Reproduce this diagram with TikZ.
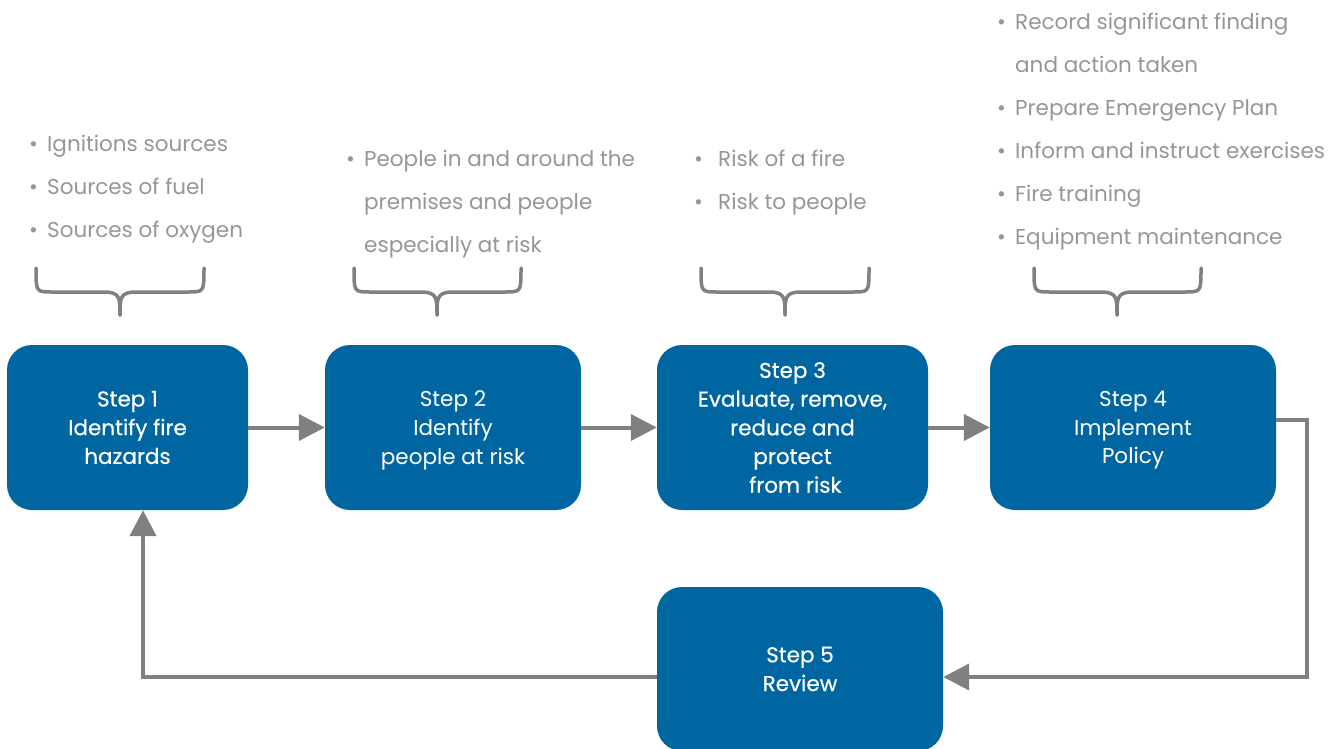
\documentclass[tikz,border=0pt]{standalone}
\usepackage{fontspec}
\setmainfont{Poppins}
\newfontfamily\medfont[FakeBold=0.5]{Poppins}
\usetikzlibrary{arrows.meta}
\definecolor{boxblue}{RGB}{0,102,161}
\definecolor{linegray}{RGB}{128,128,128}
\definecolor{txtgray}{RGB}{150,150,150}
\tikzset{
  stepbox/.style={fill=boxblue, rounded corners=25pt, text=white, align=center, inner sep=0pt,
    font=\fontsize{21.5}{28.7}\selectfont},
  boldstep/.style={stepbox, font=\medfont\fontsize{21.5}{28.7}\selectfont},
  flow/.style={draw=linegray, line width=4pt, -{Triangle[length=26pt,width=26pt]}},
  bracepath/.style={draw=linegray, line width=3.5pt, line cap=round},
  bullets/.style={text=txtgray, align=left, anchor=base west, inner sep=0pt,
    font=\fontsize{21.5}{43}\selectfont}
}
\newcommand{\bul}{\makebox[18pt][l]{\textbullet}}
\newcommand{\ind}{\hspace*{18pt}}
\newcommand{\bracedown}[4]{% left right center name
  \draw[bracepath] (#1,268) .. controls (#1,292) .. (#1+16,292) -- (#3-16,292)
     .. controls (#3,292) and (#3,298) .. (#3,315);
  \draw[bracepath] (#2,268) .. controls (#2,292) .. (#2-16,292) -- (#3+16,292)
     .. controls (#3,292) and (#3,298) .. (#3,315);
  \coordinate (#4) at (#3,315);
}
\begin{document}
\begin{tikzpicture}[x=1pt,y=-1pt]
\useasboundingbox (0,0) rectangle (1333,749);

% boxes
\node[boldstep, minimum width=241pt, minimum height=165pt] (s1) at (127.5,427.5)
  {Step 1\\Identify fire\\hazards};
\node[stepbox, text depth=0pt, minimum width=256pt, minimum height=165pt] (s2) at (453,427.5)
  {Step 2\\Identify\\people at risk};
\node[boldstep, minimum width=271pt, minimum height=165pt] (s3) at (792.5,427.5)
  {Step 3\\Evaluate, remove,\\reduce and\\protect\\\ from risk};
\node[stepbox, text depth=0pt, minimum width=286pt, minimum height=165pt] (s4) at (1133,427.5)
  {Step 4\\Implement\\Policy};
\node[boldstep, minimum width=286pt, minimum height=164pt] (s5) at (800,669)
  {Step 5\\Review};

% connectors
\draw[flow] (s1.east) -- (s2.west);
\draw[flow] (s2.east) -- (s3.west);
\draw[flow] (s3.east) -- (s4.west);
\coordinate (c4) at (1307,420);
\coordinate (c5) at (1307,677);
\coordinate (c6) at (143,677);
\draw[flow] (s4.east |- c4) -- (c4) -- (c5) -- (s5.east |- c5);
\draw[flow] (s5.west |- c6) -- (c6) -- (s1.south -| c6);

% braces
\bracedown{36}{204}{120}{b1}
\bracedown{354}{521}{437}{b2}
\bracedown{701}{869}{785}{b3}
\bracedown{1034}{1201}{1117}{b4}

% bullet texts (anchored at the baseline of the last line)
\node[bullets] (t1) at (29,237) {\bul Ignitions sources\\\bul Sources of fuel\\\bul Sources of oxygen};
\node[bullets] (t2) at (346,252) {\bul People in and around the\\\ind premises and people\\\ind especially at risk};
\node[bullets] (t3) at (694,209) {\makebox[24pt][l]{\textbullet}Risk of a fire\\\makebox[24pt][l]{\textbullet}Risk to people};
\node[bullets] (t4) at (997,244) {\bul Record significant finding\\\ind and action taken\\\bul Prepare Emergency Plan\\\bul Inform and instruct exercises\\\bul Fire training\\\bul Equipment maintenance};
\end{tikzpicture}
\end{document}
